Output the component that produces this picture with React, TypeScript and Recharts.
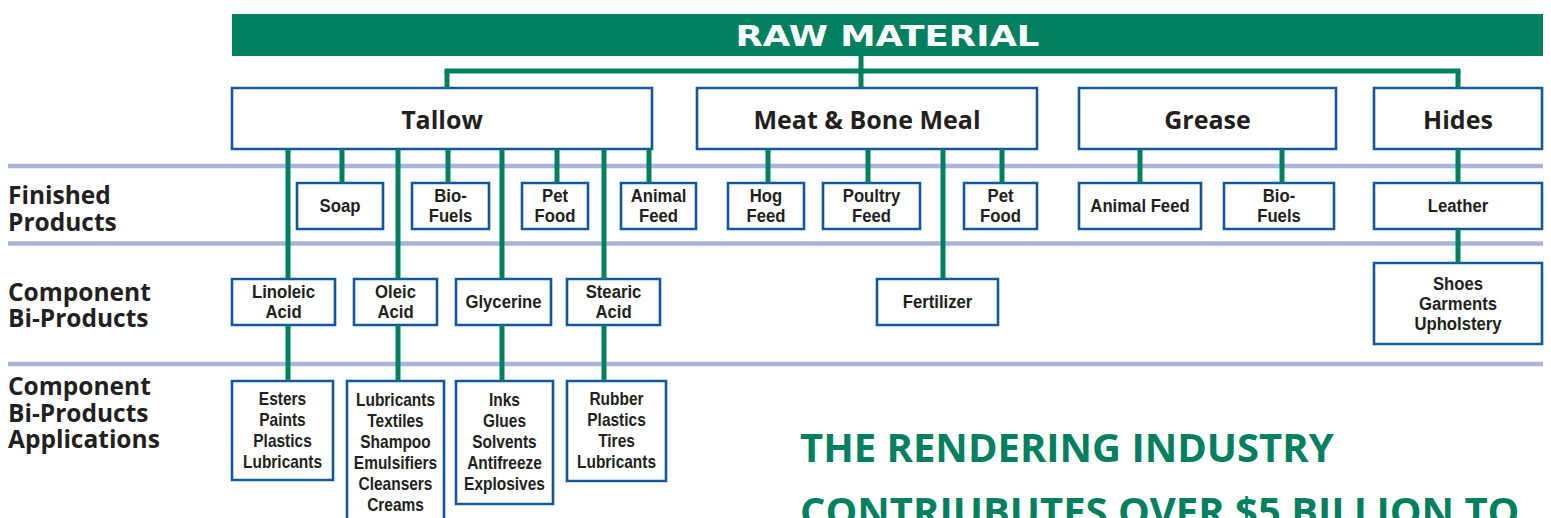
import { ComposedChart, XAxis, YAxis, Scatter, ReferenceArea, ReferenceLine } from "recharts";

const W = 1551;
const H = 518;

const GREEN = "#00805f";
const BLUE = "#1257a2";
const LAVENDER = "#aab4da";
const INK = "#231f20";

// content
const bannerLabel = "RAW MATERIAL";
const rawMaterials = [["Tallow"], ["Meat & Bone Meal"], ["Grease"], ["Hides"]];
const finishedProducts = [
  ["Soap"], ["Bio-", "Fuels"], ["Pet", "Food"], ["Animal", "Feed"],
  ["Hog", "Feed"], ["Poultry", "Feed"], ["Pet", "Food"],
  ["Animal Feed"], ["Bio-", "Fuels"], ["Leather"],
];
const componentBiProducts = [
  ["Linoleic", "Acid"], ["Oleic", "Acid"], ["Glycerine"], ["Stearic", "Acid"],
  ["Fertilizer"], ["Shoes", "Garments", "Upholstery"],
];
const applications = [
  ["Esters", "Paints", "Plastics", "Lubricants"],
  ["Lubricants", "Textiles", "Shampoo", "Emulsifiers", "Cleansers", "Creams"],
  ["Inks", "Glues", "Solvents", "Antifreeze", "Explosives"],
  ["Rubber", "Plastics", "Tires", "Lubricants"],
];
const rowLabels = [
  ["Finished", "Products"],
  ["Component", "Bi-Products"],
  ["Component", "Bi-Products", "Applications"],
];
const headline = ["THE RENDERING INDUSTRY", "CONTRIUBUTES OVER $5 BILLION TO"];

// layout (x extents in chart units)
const bannerSpan = [232, 1543];
const rawSpans = [[232, 652], [697, 1037], [1079, 1336], [1374, 1542]];
const finishedSpans = [
  [297, 383], [412, 489], [522, 588], [621, 696], [728, 804],
  [823, 920], [964, 1037], [1079, 1201], [1224, 1334], [1374, 1542],
];
const finishedStems = [342, 448, 557, 649, 768, 868, 1002, 1140, 1282, 1458];
const componentSpans = [[232, 335], [354, 437], [456, 551], [567, 660], [877, 998], [1374, 1542]];
const componentStems = [288, 398, 502, 604, 943, 1458];
const appSpans = [[232, 333], [347, 444], [456, 553], [567, 666]];
const appBottoms = [480, 524, 504, 481];

const rowBands = {
  banner: [14, 56],
  raw: [88, 149],
  finished: [183, 229],
  component: [279, 325],
  shoes: [263, 344],
  appsTop: 381,
};
const dividers = [166, 243.5, 364];
const rowLabelCenters = [208, 304.5, 412];

type Box = { lines: string[]; x1: number; x2: number; y1: number; y2: number; kind: string };

const boxes: Box[] = [
  ...rawMaterials.map((lines, i) => ({ lines, x1: rawSpans[i][0], x2: rawSpans[i][1], y1: rowBands.raw[0], y2: rowBands.raw[1], kind: "raw" })),
  ...finishedProducts.map((lines, i) => ({ lines, x1: finishedSpans[i][0], x2: finishedSpans[i][1], y1: rowBands.finished[0], y2: rowBands.finished[1], kind: "small" })),
  ...componentBiProducts.map((lines, i) => {
    const band = i === 5 ? rowBands.shoes : rowBands.component;
    return { lines, x1: componentSpans[i][0], x2: componentSpans[i][1], y1: band[0], y2: band[1], kind: "small" };
  }),
  ...applications.map((lines, i) => ({ lines, x1: appSpans[i][0], x2: appSpans[i][1], y1: rowBands.appsTop, y2: appBottoms[i], kind: "app" })),
];

const textPoints = [
  ...boxes.map((b) => ({ x: (b.x1 + b.x2) / 2, y: (b.y1 + b.y2) / 2, lines: b.lines, kind: b.kind })),
  { x: (bannerSpan[0] + bannerSpan[1]) / 2, y: 36, lines: [bannerLabel], kind: "banner" },
  ...rowLabels.map((lines, i) => ({ x: 8, y: rowLabelCenters[i], lines, kind: "row" })),
  { x: 800, y: 478.5, lines: headline, kind: "headline" },
];

type Seg = [number, number, number, number];
const half = 2.5;
const connectors: Seg[] = [
  [861, rowBands.banner[1], 861, rowBands.raw[0]],
  [447 - half, 71, 1458 + half, 71],
  [447, 71, 447, rowBands.raw[0]],
  [1458, 71, 1458, rowBands.raw[0]],
  ...finishedStems.map((x): Seg => [x, rowBands.raw[1], x, rowBands.finished[0]]),
  ...componentStems.map((x, i): Seg =>
    i === 5 ? [x, rowBands.finished[1], x, rowBands.shoes[0]] : [x, rowBands.raw[1], x, rowBands.component[0]]
  ),
  ...appSpans.map((_, i): Seg => [componentStems[i], rowBands.component[1], componentStems[i], rowBands.appsTop]),
];

// no condensed face installed, so the narrow box labels are squeezed horizontally
const grotesk = "'Liberation Sans', Arial, sans-serif";
const humanist = "'Open Sans', 'Noto Sans', sans-serif";

const textStyles: Record<string, any> = {
  raw: { font: humanist, size: 25, lh: 30, anchor: "middle", fill: INK },
  small: { font: grotesk, size: 19, lh: 20, anchor: "middle", fill: INK, sx: 0.88 },
  app: { font: grotesk, size: 18, lh: 21, anchor: "middle", fill: INK, sx: 0.86 },
  banner: { font: "'DejaVu Sans', sans-serif", size: 28, lh: 30, anchor: "middle", fill: "#ffffff", fit: 304 },
  row: { font: humanist, size: 24.5, lh: 26.5, anchor: "start", fill: INK },
  headline: { font: humanist, size: 40, lh: 64, anchor: "start", fill: GREEN },
};

const NodeText = (props: any) => {
  const { cx, cy, payload } = props;
  if (cx == null || cy == null) return null;
  const st = textStyles[payload.kind];
  const n = payload.lines.length;
  const sx = st.sx ?? 1;
  return (
    <g>
      {payload.lines.map((line: string, i: number) => (
        <text
          key={i}
          x={0}
          y={0}
          transform={`translate(${cx} ${cy + (i - (n - 1) / 2) * st.lh}) scale(${sx} 1)`}
          textAnchor={st.anchor}
          dominantBaseline="central"
          fontFamily={st.font}
          fontSize={st.size}
          fontWeight="bold"
          fill={st.fill}
          textLength={st.fit}
          lengthAdjust={st.fit ? "spacingAndGlyphs" : undefined}
        >
          {line}
        </text>
      ))}
    </g>
  );
};

export default function App() {
  return (
    <div style={{ position: "absolute", left: 0, top: 0, width: W, height: H, background: "#fff" }}>
      <ComposedChart width={W} height={H} margin={{ top: 0, right: 0, bottom: 0, left: 0 }}>
        <XAxis type="number" dataKey="x" domain={[0, W]} allowDataOverflow hide />
        <YAxis type="number" dataKey="y" domain={[0, H]} allowDataOverflow reversed hide />

        {dividers.map((y, i) => (
          <ReferenceLine
            key={`d${i}`}
            segment={[{ x: 8, y }, { x: 1543, y }]}
            stroke={LAVENDER}
            strokeWidth={4.5}
            ifOverflow="visible"
          />
        ))}

        <ReferenceArea
          x1={bannerSpan[0]}
          x2={bannerSpan[1]}
          y1={rowBands.banner[0]}
          y2={rowBands.banner[1]}
          fill={GREEN}
          fillOpacity={1}
          stroke="none"
          ifOverflow="visible"
        />

        {connectors.map((s, i) => (
          <ReferenceLine
            key={`c${i}`}
            segment={[{ x: s[0], y: s[1] }, { x: s[2], y: s[3] }]}
            stroke={GREEN}
            strokeWidth={5}
            ifOverflow="visible"
          />
        ))}

        {boxes.map((b, i) => (
          <ReferenceArea
            key={`b${i}`}
            x1={b.x1}
            x2={b.x2}
            y1={b.y1}
            y2={b.y2}
            fill="#ffffff"
            fillOpacity={1}
            stroke={BLUE}
            strokeWidth={2.6}
            ifOverflow="visible"
          />
        ))}

        <Scatter data={textPoints} shape={NodeText} isAnimationActive={false} />
      </ComposedChart>
    </div>
  );
}
